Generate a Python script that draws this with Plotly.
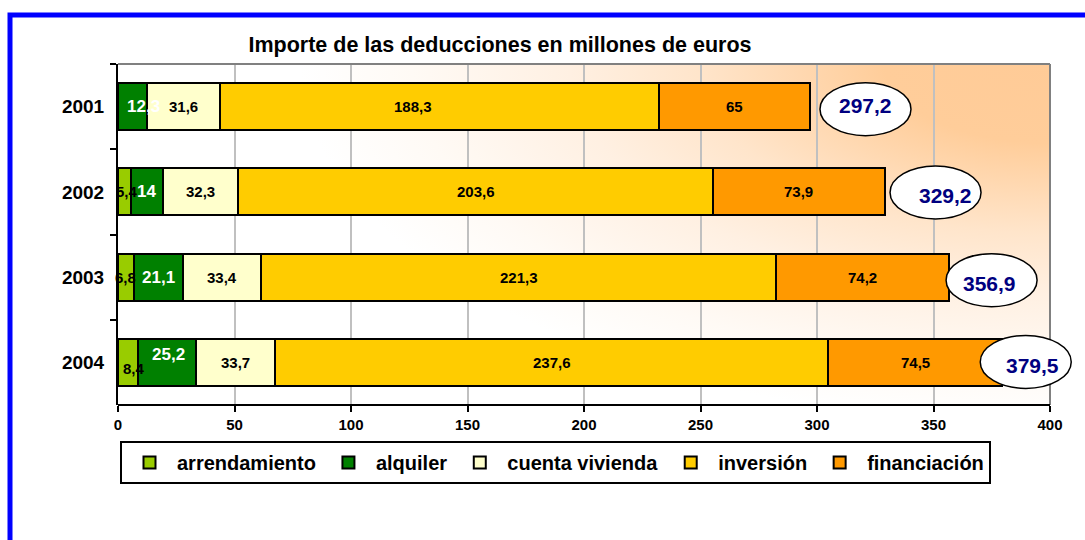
import base64
import plotly.graph_objects as go

# ---------------- data ----------------
years = ["2001", "2002", "2003", "2004"]
series_names = ["arrendamiento", "alquiler", "cuenta vivienda", "inversión", "financiación"]
arrendamiento = [None, 5.4, 6.8, 8.4]
alquiler = [12.3, 14, 21.1, 25.2]
cuenta_vivienda = [31.6, 32.3, 33.4, 33.7]
inversion = [188.3, 203.6, 221.3, 237.6]
financiacion = [65, 73.9, 74.2, 74.5]
totals = [297.2, 329.2, 356.9, 379.5]
x_ticks = [0, 50, 100, 150, 200, 250, 300, 350, 400]
title_text = "Importe de las deducciones en millones de euros"

series_values = [arrendamiento, alquiler, cuenta_vivienda, inversion, financiacion]

# ---------------- style ----------------
FONT = "Liberation Sans, Arial, sans-serif"
colors = ["#99CC00", "#008000", "#FFFFCC", "#FFCC00", "#FF9900"]
label_colors = ["black", "white", "black", "black", "black"]
label_sizes = [15, 17, 15, 15, 15]
# per-label pixel nudges (series index, year index) -> (xshift, yshift)
label_nudge = {(1, 0): (11, 0), (0, 1): (3, 0), (0, 3): (6, -6), (1, 3): (2, 8), (3, 0): (-27, 0)}
# total "bubble" placement relative to the bar end (pixels)
ell_x0 = [9.5, 5, -3.5, -22]
ell_w = 91
ell_h = 53
ell_dy = [-2.5, -0.5, -3, 0.5]
tot_dx = [55.5, 60, 40.4, 30.3]
tot_dy = [1, -4, -6, -3]

W, H = 1085, 540
L, R, T, B = 118, 10, 64, 135
PW = W - L - R          # 957
PH = H - T - B          # 341
AX_MAX = 400
x_range_max = AX_MAX * PW / 932.0   # so that 400 sits at x = 1050 px


def fmt(v):
    return str(v).replace(".", ",")


# ---------------- background gradient (svg) ----------------
def mix(t):
    r = 255
    g = round(255 - 52 * t)
    b = round(255 - 104 * t)
    return "#%02X%02X%02X" % (r, g, b)

stops = [(0.0, 1.0), (0.22, 0.97), (0.47, 0.5), (0.64, 0.28), (0.85, 0.1), (1.0, 0.0)]
stop_xml = "".join('<stop offset="%.2f" stop-color="%s"/>' % (o, mix(t)) for o, t in stops)
svg = ('<svg xmlns="http://www.w3.org/2000/svg" width="932" height="341" '
       'viewBox="0 0 932 341" preserveAspectRatio="none"><defs>'
       '<radialGradient id="g" gradientUnits="userSpaceOnUse" cx="0" cy="0" r="1" '
       'gradientTransform="translate(932 0) scale(750 360)">' + stop_xml +
       '</radialGradient></defs><rect width="932" height="341" fill="url(#g)"/></svg>')
svg_uri = "data:image/svg+xml;base64," + base64.b64encode(svg.encode()).decode()

# ---------------- figure ----------------
fig = go.Figure()
for name, vals, col in zip(series_names, series_values, colors):
    fig.add_trace(go.Bar(
        y=years, x=vals, name=name, orientation="h",
        marker=dict(color=col, line=dict(color="black", width=2)),
        hoverinfo="x+name",
    ))

annotations = []
# segment labels
for yi, yr in enumerate(years):
    cum = 0.0
    for si, vals in enumerate(series_values):
        v = vals[yi]
        if v is None:
            continue
        dx, dy = label_nudge.get((si, yi), (0, 0))
        annotations.append(dict(
            x=cum + v / 2.0, y=yi, xref="x", yref="y", text=fmt(v), showarrow=False,
            xshift=dx, yshift=dy,
            font=dict(family=FONT, size=label_sizes[si], color=label_colors[si], weight="bold"),
        ))
        cum += v

shapes = []
# plot-area border (top and right, grey)
shapes.append(dict(type="line", xref="x", yref="paper", x0=0, x1=AX_MAX, y0=1, y1=1,
                   line=dict(color="#808080", width=2), layer="above"))
shapes.append(dict(type="line", xref="x", yref="paper", x0=AX_MAX, x1=AX_MAX, y0=0, y1=1,
                   line=dict(color="#808080", width=2), layer="above"))
# x axis line
shapes.append(dict(type="line", xref="x", yref="paper", x0=0, x1=AX_MAX, y0=0, y1=0,
                   line=dict(color="black", width=2), layer="above"))

# totals in ellipses
for i, (yr, tot) in enumerate(zip(years, totals)):
    shapes.append(dict(
        type="circle", xref="x", yref="y", xsizemode="pixel", ysizemode="pixel",
        xanchor=tot, yanchor=i,
        x0=ell_x0[i], x1=ell_x0[i] + ell_w,
        y0=ell_dy[i] - ell_h / 2.0, y1=ell_dy[i] + ell_h / 2.0,
        fillcolor="white", line=dict(color="black", width=1.5), layer="above",
    ))
    annotations.append(dict(
        x=tot, y=i, xref="x", yref="y", text=fmt(tot), showarrow=False,
        xshift=tot_dx[i], yshift=tot_dy[i],
        font=dict(family=FONT, size=21, color="#000080", weight="bold"),
    ))

# blue outer frame
shapes.append(dict(type="rect", xref="paper", yref="paper",
                   x0=(10 - L) / PW, x1=(W + 20 - L) / PW,
                   y0=(T + PH - 15) / PH, y1=(T + PH - (H + 20)) / PH,
                   line=dict(color="#0000FF", width=5), fillcolor="rgba(0,0,0,0)"))

fig.update_layout(
    width=W, height=H,
    margin=dict(l=L, r=R, t=T, b=B, autoexpand=False),
    paper_bgcolor="white",
    plot_bgcolor="rgba(0,0,0,0)",
    barmode="stack",
    bargap=0.45,
    font=dict(family=FONT, color="black"),
    title=dict(text=title_text, x=(500 - L) / PW, xref="paper", xanchor="center",
               y=1 - 44.0 / H, yref="container", yanchor="middle",
               font=dict(family=FONT, size=21.5, color="black", weight="bold")),
    xaxis=dict(range=[0, x_range_max], autorange=False, tickmode="array", tickvals=x_ticks,
               ticktext=[str(t) for t in x_ticks],
               ticks="outside", ticklen=6, tickwidth=2, tickcolor="black",
               showline=False, zeroline=False,
               showgrid=True, gridcolor="#C0C0C0", gridwidth=1.5,
               tickfont=dict(family=FONT, size=15, color="black", weight="bold"),
               fixedrange=True),
    yaxis=dict(type="category", categoryorder="array", categoryarray=years,
               range=[3.5, -0.5], autorange=False, tickson="boundaries",
               ticks="outside", ticklen=6, tickwidth=2, tickcolor="black",
               showline=True, linecolor="black", linewidth=2,
               showgrid=False, zeroline=False, ticklabelstandoff=8,
               tickfont=dict(family=FONT, size=19, color="black", weight="bold"),
               fixedrange=True),
    legend=dict(orientation="h", x=(120 - L) / PW, y=(PH - (441 - T)) / PH,
                xanchor="left", yanchor="top", traceorder="normal", itemwidth=45,
                bgcolor="white", bordercolor="black", borderwidth=2,
                font=dict(family=FONT, size=20, color="black", weight="bold")),
    shapes=shapes,
    annotations=annotations,
    images=[dict(source=svg_uri, xref="x", yref="paper", x=0, y=1, sizex=AX_MAX, sizey=1,
                 xanchor="left", yanchor="top", sizing="stretch", layer="below")],
    showlegend=True,
)

fig.write_html("out.html")
